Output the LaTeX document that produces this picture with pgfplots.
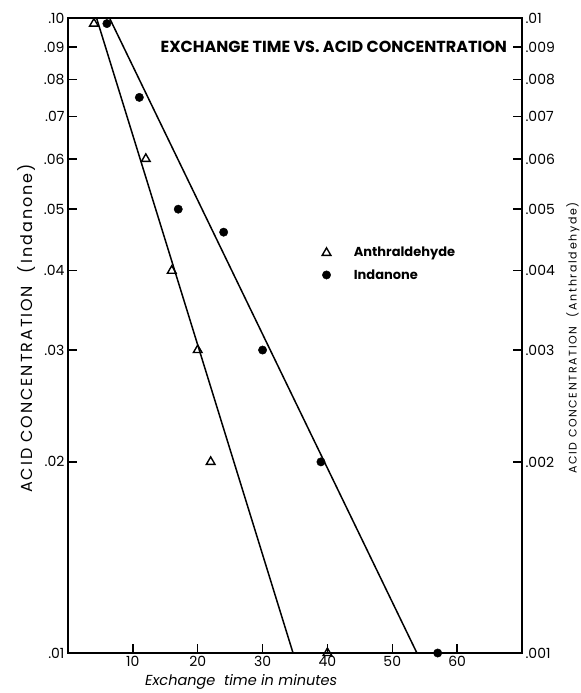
\documentclass[border=0pt]{standalone}
\usepackage{pgfplots}
\pgfplotsset{compat=1.18}
\usepackage{fontspec}
\setmainfont{Poppins}
\begin{document}
\begin{tikzpicture}
\pgfplotsset{
  every axis/.append style={
    scale only axis, width=454pt, height=635pt,
    xmin=0, xmax=70, ymode=log,
    axis line style={line width=1.4pt},
    tick style={line width=1.4pt, black},
    major tick length=9pt,
    tick align=inside,
    tick label style={font=\fontsize{14}{16}\selectfont},
  }
}
\begin{axis}[
  name=main,
  ymin=0.01, ymax=0.1,
  xtick pos=bottom, ytick pos=left,
  xtick={10,20,30,40,50,60},
  xticklabels={10,20,30,40,50,60},
  ytick={0.01,0.02,0.03,0.04,0.05,0.06,0.07,0.08,0.09,0.1},
  yticklabels={.01,.02,.03,.04,.05,.06,.07,.08,.09,.10},
  ylabel={ACID CONCENTRATION \ (\,Indanone)},
  ylabel style={font=\fontsize{16}{18}\selectfont\addfontfeature{LetterSpace=12},
    at={([xshift=-41pt]axis description cs:0,0.511)}, anchor=center},
  clip=false,
  legend style={at={(axis cs:38.7,0.041)}, anchor=west, draw=none, fill=none,
    font=\fontsize{13}{15}\selectfont\bfseries, row sep=7pt},
  legend cell align=left,
]
\addplot[only marks, mark=triangle, mark size=5pt, mark options={line width=1.4pt}]
  coordinates {(4,0.098) (12,0.06) (16,0.04) (20,0.03) (22,0.02) (40,0.01)};
\addlegendentry{\hspace{21pt}Anthraldehyde}
\addplot[only marks, mark=*, mark size=4.2pt]
  coordinates {(6,0.098) (11,0.075) (17,0.05) (24,0.046) (30,0.03) (39,0.02) (57,0.01)};
\addlegendentry{\hspace{21pt}Indanone}
\addplot[line width=1.5pt, forget plot] coordinates {(4.4,0.1) (34.7,0.01)};
\addplot[line width=1.5pt, forget plot] coordinates {(6.4,0.1) (53.8,0.01)};
\node[anchor=east, font=\fontsize{16}{18}\selectfont\bfseries, inner sep=0pt]
  at (axis cs:67.7,0.09) {EXCHANGE TIME VS. ACID CONCENTRATION};
\node[anchor=center, font=\fontsize{14.5}{17}\selectfont\itshape]
  at (axis cs:26.7,0.01) [yshift=-29pt] {Exchange \ time in minutes};
\end{axis}
\begin{axis}[
  ymin=0.001, ymax=0.01,
  axis x line=none, axis y line*=right,
  ytick={0.001,0.002,0.003,0.004,0.005,0.006,0.007,0.008,0.009,0.01},
  yticklabels={.001,.002,.003,.004,.005,.006,.007,.008,.009,.01},
  ylabel={ACID CONCENTRATION \ (\,Anthraldehyde\,)},
  ylabel style={font=\fontsize{11}{13}\selectfont\addfontfeature{LetterSpace=15},
    at={([xshift=51pt]axis description cs:1,0.496)}, anchor=center},
]
\end{axis}
\pgfresetboundingbox
\path[use as bounding box] ([xshift=-68pt,yshift=-40pt]main.south west)
  rectangle ([xshift=59pt,yshift=18pt]main.north east);
\end{tikzpicture}
\end{document}
